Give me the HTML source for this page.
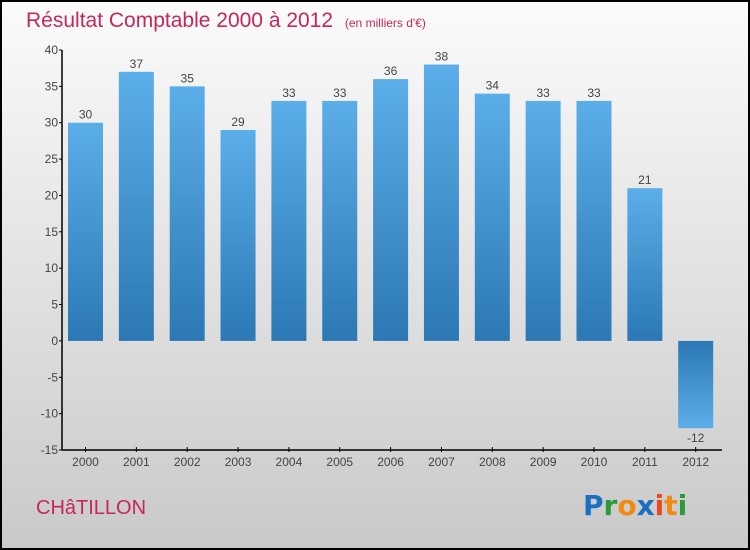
<!DOCTYPE html>
<html><head><meta charset="utf-8"><style>
body{margin:0}
#c{width:750px;height:550px;position:relative;overflow:hidden;font-family:"Liberation Sans",sans-serif}
</style></head><body>
<div id="c">
<svg id="s" width="750" height="550" xmlns="http://www.w3.org/2000/svg">
<defs>
<linearGradient id="bg" x1="0" y1="0" x2="0" y2="1"><stop offset="0" stop-color="#fbfbfb"/><stop offset="1" stop-color="#c9c9c9"/></linearGradient>
<linearGradient id="bp" x1="0" y1="0" x2="0" y2="1"><stop offset="0" stop-color="#5caee8"/><stop offset="1" stop-color="#2b78b4"/></linearGradient>
<linearGradient id="bn" x1="0" y1="0" x2="0" y2="1"><stop offset="0" stop-color="#2b78b4"/><stop offset="1" stop-color="#5caee8"/></linearGradient>
</defs>
<rect x="1" y="1" width="748" height="548" fill="url(#bg)" stroke="#000" stroke-width="2"/>
<text x="26" y="27" font-size="21" fill="#c4285a" font-weight="300">Résultat Comptable 2000 à 2012 <tspan font-size="12" dx="6">(en milliers d'€)</tspan></text>
<text x="36" y="514" font-size="20" fill="#c4285a" font-weight="300">CHâTILLON</text>
<text x="583" y="515" font-size="28" font-weight="bold" font-family="'DejaVu Sans',sans-serif"><tspan fill="#1a6fc0">P</tspan><tspan fill="#2a9a3a">r</tspan><tspan fill="#f08a10">o</tspan><tspan fill="#1a6fc0">x</tspan><tspan fill="#e84a20">i</tspan><tspan fill="#f08a10">t</tspan><tspan fill="#2a9a3a">i</tspan></text>
<g id="g"></g>
</svg>
</div>
<script>
const categories=["2000","2001","2002","2003","2004","2005","2006","2007","2008","2009","2010","2011","2012"];
const values=[30,37,35,29,33,33,36,38,34,33,33,21,-12];
const yTicks=[40,35,30,25,20,15,10,5,0,-5,-10,-15];
const yMin=-15,yMax=40,yTop=50,yBottom=450,xLeft=62,xRight=722;
const NS="http://www.w3.org/2000/svg";
const g=document.getElementById('g');
function yScale(v){return yBottom-(v-yMin)/(yMax-yMin)*(yBottom-yTop);}
function xc(i){return 85.5+i*50.85;}
function el(t,a,txt){const e=document.createElementNS(NS,t);for(const k in a)e.setAttribute(k,a[k]);if(txt!==undefined)e.textContent=txt;g.appendChild(e);return e;}
let e;
e=el('line',{x1:xLeft,y1:yTop,x2:xLeft,y2:yBottom,stroke:'#000','stroke-width':1.5});


e=el('line',{x1:xLeft,y1:yBottom,x2:xRight,y2:yBottom,stroke:'#000','stroke-width':1.5});


yTicks.forEach(t=>{
 e=el('line',{x1:xLeft-3,y1:yScale(t),x2:xLeft,y2:yScale(t),stroke:'#000'});
 
 
 e=el('text',{x:xLeft-4,y:yScale(t)+4,'font-size':12,fill:'#444','text-anchor':'end'},t<0?'-'+Math.abs(t):t);
 
 
});
categories.forEach((c,i)=>{
 const v=values[i],cx=xc(i),w=35;
 e=el('rect',{x:cx-w/2,y:Math.min(yScale(v),yScale(0)),width:w,height:Math.abs(yScale(v)-yScale(0)),fill:v>=0?'url(#bp)':'url(#bn)'});
 
 
 e=el('text',{x:cx,y:v>=0?yScale(v)-4:yScale(v)+14,'font-size':12,fill:'#444','text-anchor':'middle'},v<0?'-'+Math.abs(v):v);
 
 
 e=el('line',{x1:cx,y1:yBottom-3,x2:cx,y2:yBottom+2,stroke:'#000'});
 
 
 e=el('text',{x:cx,y:yBottom+16,'font-size':12,fill:'#444','text-anchor':'middle'},c);
 
 
});
</script>
</body></html>
